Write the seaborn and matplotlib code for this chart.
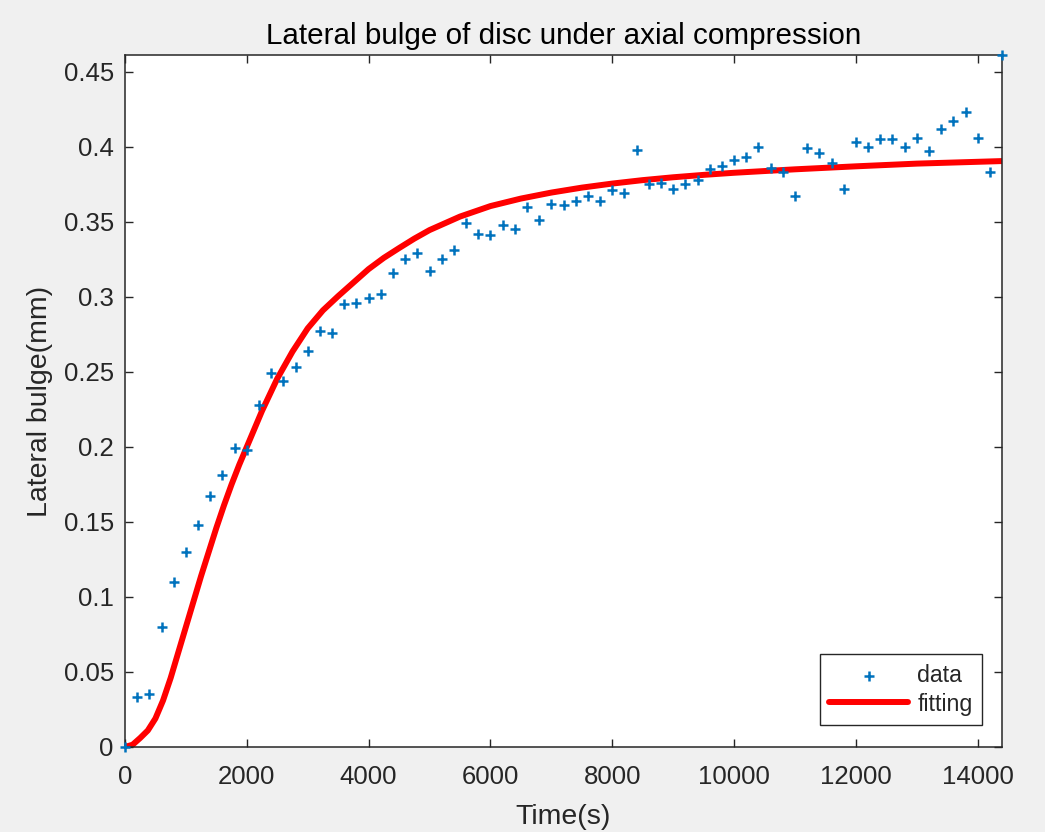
import matplotlib
matplotlib.use("Agg")
import matplotlib.pyplot as plt
import seaborn as sns
import pandas as pd

# ---- data ----
time_s = [0, 200, 400, 600, 800, 1000, 1200, 1400, 1600, 1800,
          2000, 2200, 2400, 2600, 2800, 3000, 3200, 3400, 3600, 3800,
          4000, 4200, 4400, 4600, 4800, 5000, 5200, 5400, 5600, 5800,
          6000, 6200, 6400, 6600, 6800, 7000, 7200, 7400, 7600, 7800,
          8000, 8200, 8400, 8600, 8800, 9000, 9200, 9400, 9600, 9800,
          10000, 10200, 10400, 10600, 10800, 11000, 11200, 11400, 11600, 11800,
          12000, 12200, 12400, 12600, 12800, 13000, 13200, 13400, 13600, 13800,
          14000, 14200, 14400]
bulge_mm = [0.000, 0.033, 0.035, 0.080, 0.110, 0.130, 0.148, 0.167, 0.181, 0.199,
            0.198, 0.228, 0.249, 0.244, 0.253, 0.264, 0.277, 0.276, 0.295, 0.296,
            0.299, 0.302, 0.316, 0.325, 0.329, 0.317, 0.325, 0.331, 0.349, 0.342,
            0.341, 0.348, 0.345, 0.360, 0.351, 0.362, 0.361, 0.364, 0.367, 0.364,
            0.371, 0.369, 0.398, 0.375, 0.376, 0.372, 0.375, 0.378, 0.385, 0.387,
            0.391, 0.393, 0.400, 0.386, 0.383, 0.367, 0.399, 0.396, 0.389, 0.372,
            0.403, 0.400, 0.405, 0.405, 0.400, 0.406, 0.397, 0.412, 0.417, 0.423,
            0.406, 0.383, 0.461]

fit_time = [0, 125, 250, 375, 500, 625, 750, 875, 1000, 1125, 1250, 1375,
            1500, 1625, 1750, 1875, 2000, 2250, 2500, 2750, 3000, 3250, 3500,
            3750, 4000, 4250, 4500, 4750, 5000, 5500, 6000, 6500, 7000, 7500,
            8000, 8500, 9000, 9500, 10000, 11000, 12000, 13000, 14400]
fit_bulge = [0.000, 0.0015, 0.006, 0.011, 0.019, 0.031, 0.046, 0.063, 0.080,
             0.097, 0.114, 0.130, 0.146, 0.161, 0.175, 0.188, 0.200, 0.224,
             0.2455, 0.2635, 0.279, 0.291, 0.3005, 0.3095, 0.3185, 0.326,
             0.3325, 0.3388, 0.3445, 0.3535, 0.3605, 0.3655, 0.3695, 0.3728,
             0.3755, 0.3778, 0.3797, 0.3813, 0.3827, 0.385, 0.387, 0.3888, 0.3905]

x_ticks = [0, 2000, 4000, 6000, 8000, 10000, 12000, 14000]
x_tick_labels = ["0", "2000", "4000", "6000", "8000", "10000", "12000", "14000"]
y_ticks = [0, 0.05, 0.1, 0.15, 0.2, 0.25, 0.3, 0.35, 0.4, 0.45]
y_tick_labels = ["0", "0.05", "0.1", "0.15", "0.2", "0.25", "0.3", "0.35", "0.4", "0.45"]

df_data = pd.DataFrame({"t": time_s, "y": bulge_mm})
df_fit = pd.DataFrame({"t": fit_time, "y": fit_bulge})

sns.set_style("ticks")
plt.rcParams["font.family"] = ["Liberation Sans", "DejaVu Sans"]

fig = plt.figure(figsize=(10.45, 8.32), dpi=100, facecolor="#F0F0F0")
ax = fig.add_axes([0.1196, 0.1022, 0.8393, 0.8317])
ax.set_facecolor("white")

sns.scatterplot(data=df_data, x="t", y="y", marker="+", s=62, color="#0072BD",
                linewidth=1.8, label="data", ax=ax, zorder=3)
ax.collections[0].set_clip_on(False)
sns.lineplot(data=df_fit, x="t", y="y", color="#FF0000", linewidth=4.3,
             label="fitting", ax=ax, zorder=2)
ax.lines[-1].set_solid_joinstyle("round")

ax.set_xlim(0, 14400)
ax.set_ylim(0, 0.4612)
ax.set_xticks(x_ticks)
ax.set_xticklabels(x_tick_labels)
ax.set_yticks(y_ticks)
ax.set_yticklabels(y_tick_labels)

ax.tick_params(direction="in", length=6, width=1.0, colors="#262626",
               labelsize=18.5, top=True, right=True, pad=8)
ax.tick_params(axis="x", pad=13)
for sp in ax.spines.values():
    sp.set_visible(True)
    sp.set_color("#262626")
    sp.set_linewidth(1.1)

ax.set_title("Lateral bulge of disc under axial compression", fontsize=21.3,
             color="#000000", pad=8)
ax.set_xlabel("Time(s)", fontsize=20.5, color="#262626", labelpad=11)
ax.set_ylabel("Lateral bulge(mm)", fontsize=20.5, color="#262626", labelpad=8)

leg = ax.legend(loc="lower right", fontsize=16.7, frameon=True, fancybox=False,
                edgecolor="#262626", framealpha=1, borderpad=0.4,
                labelspacing=0.25, handlelength=3.4, handletextpad=0.4,
                markerfirst=True, borderaxespad=0, bbox_to_anchor=(0.977, 0.032))
leg.get_frame().set_linewidth(1.0)

fig.savefig("out.png", dpi=100, facecolor=fig.get_facecolor())
